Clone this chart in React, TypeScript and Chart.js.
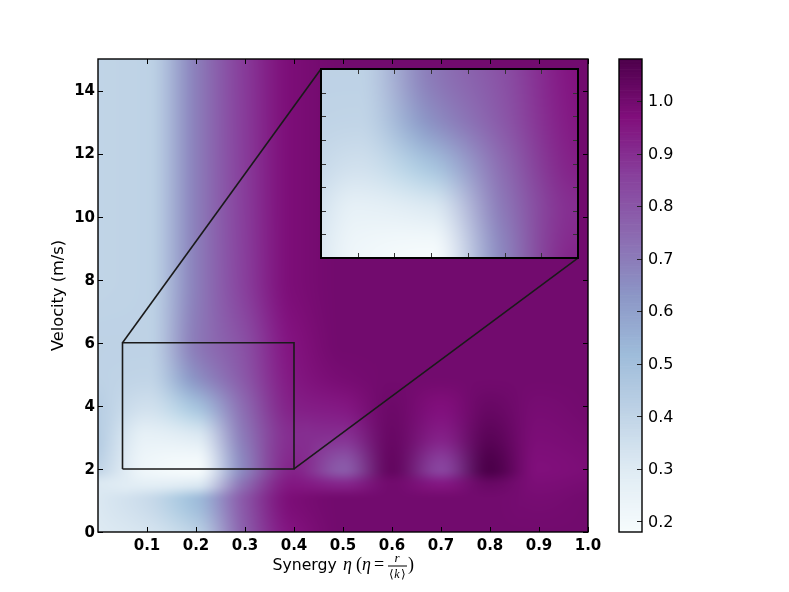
import React, { useEffect, useRef } from "react";
import { Chart, registerables } from "chart.js";
Chart.register(...registerables);

// ---- data ----
const synergy = [0, .1, .2, .3, .4, .5, .6, .7, .8, .9, 1];
const velocity = [0, 1, 1.5, 2, 3, 4, 5, 6, 8, 15];
const atV0 = [.30, .33, .42, .78, .96, 1, 1, 1, 1, 1, 1];
const atV1 = [.31, .37, .51, .80, .98, 1, 1, 1, 1, .99, 1];
const atV15 = [.31, .28, .31, .74, .95, .92, 1.0, .95, 1.02, .98, .99];
const atV2 = [.40, .22, .19, .68, .92, .79, 1.03, .85, 1.08, .97, .98];
const atV3 = [.44, .26, .30, .71, .90, .89, 1.02, .93, 1.05, .98, .99];
const atV4 = [.43, .35, .49, .75, .93, .95, 1.01, .97, 1.02, .99, 1];
const atV5 = [.41, .40, .65, .80, .95, .99, 1, 1, 1, 1, 1];
const atV6 = [.41, .41, .70, .82, .96, 1, 1, 1, 1, 1, 1];
const atV8 = [.40, .41, .69, .86, .98, 1, 1, 1, 1, 1, 1];
const atV15top = [.40, .41, .69, .87, .98, 1, 1, 1, 1, 1, 1];
const grid = [atV0, atV1, atV15, atV2, atV3, atV4, atV5, atV6, atV8, atV15top];

const xTicks = [.1, .2, .3, .4, .5, .6, .7, .8, .9, 1];
const yTicks = [0, 2, 4, 6, 8, 10, 12, 14];
const zoomBox = { x0: .05, x1: .4, y0: 2, y1: 6 };
const insetCorners = { x0: .455, x1: .98, y0: 8.69, y1: 14.68 };
const insetXTicks = [.05, .1, .15, .2, .25, .3, .35, .4];
const insetYTicks = [2, 2.5, 3, 3.5, 4, 4.5, 5, 5.5, 6];
const cbTicks = [.2, .3, .4, .5, .6, .7, .8, .9, 1];
const cbMin = .18, cbMax = 1.08;
const buPu = ["#f7fcfd", "#e0ecf4", "#bfd3e6", "#9ebcda", "#8c96c6", "#8c6bb1", "#88419d", "#810f7c", "#4d004b"];

const FONT = "'DejaVu Sans'";
const stops = buPu.map((c) => [1, 3, 5].map((i) => parseInt(c.slice(i, i + 2), 16)));
function cmap(v: number) {
  const t = Math.max(0, Math.min(1, (v - cbMin) / (cbMax - cbMin))) * (stops.length - 1);
  const i = Math.min(stops.length - 2, Math.floor(t));
  const f = t - i;
  return stops[i].map((c, k) => c + (stops[i + 1][k] - c) * f);
}
// shape-preserving cubic between cells
function slopeAt(xs: number[], fs: number[], i: number) {
  const n = xs.length;
  if (i === 0) return (fs[1] - fs[0]) / (xs[1] - xs[0]);
  if (i === n - 1) return (fs[n - 1] - fs[n - 2]) / (xs[n - 1] - xs[n - 2]);
  const a = (fs[i] - fs[i - 1]) / (xs[i] - xs[i - 1]);
  const b = (fs[i + 1] - fs[i]) / (xs[i + 1] - xs[i]);
  if (a * b <= 0) return 0;
  return (2 * a * b) / (a + b);
}
function hermite(xs: number[], fs: number[], x: number) {
  const n = xs.length;
  let i = 0;
  while (i < n - 2 && x > xs[i + 1]) i++;
  const h = xs[i + 1] - xs[i];
  const t = Math.max(0, Math.min(1, (x - xs[i]) / h));
  const m0 = slopeAt(xs, fs, i), m1 = slopeAt(xs, fs, i + 1);
  const t2 = t * t, t3 = t2 * t;
  return (2 * t3 - 3 * t2 + 1) * fs[i] + (t3 - 2 * t2 + t) * h * m0 + (-2 * t3 + 3 * t2) * fs[i + 1] + (t3 - t2) * h * m1;
}
// the picture blends colours between cells, so each cell is mapped to a colour first
const gridRgb = [0, 1, 2].map((ch) => grid.map((row) => row.map((v) => cmap(v)[ch])));

const heatPlugin = {
  id: "heat",
  beforeDatasetsDraw(chart: any) {
    const { chartArea: a, scales, ctx } = chart;
    const w = Math.round(a.right - a.left), h = Math.round(a.bottom - a.top);
    const off = document.createElement("canvas");
    off.width = w; off.height = h;
    const oc = off.getContext("2d")!;
    const img = oc.createImageData(w, h);
    for (let px = 0; px < w; px++) {
      const xv = scales.x.getValueForPixel(a.left + px + .5);
      const cols = gridRgb.map((g) => g.map((row) => hermite(synergy, row, xv)));
      for (let py = 0; py < h; py++) {
        const yv = scales.y.getValueForPixel(a.top + py + .5);
        const o = (py * w + px) * 4;
        for (let ch = 0; ch < 3; ch++) img.data[o + ch] = hermite(velocity, cols[ch], yv);
        img.data[o + 3] = 255;
      }
    }
    oc.putImageData(img, 0, 0);
    ctx.drawImage(off, a.left, a.top);
  },
};

function frameAndTicks(len: number, lw: number, sides: string[], color = "#000", tickW = 1) {
  return {
    id: "frame",
    afterDraw(chart: any) {
      const { chartArea: a, scales, ctx } = chart;
      ctx.save();
      ctx.strokeStyle = color;
      ctx.lineWidth = tickW;
      const line = (x0: number, y0: number, x1: number, y1: number) => {
        ctx.beginPath(); ctx.moveTo(x0, y0); ctx.lineTo(x1, y1); ctx.stroke();
      };
      if (scales.x && scales.x.type === "linear") {
        scales.x.ticks.forEach((t: any) => {
          const p = Math.round(scales.x.getPixelForValue(t.value)) + .5;
          if (sides.includes("b")) line(p, a.bottom, p, a.bottom - len);
          if (sides.includes("t")) line(p, a.top, p, a.top + len);
        });
      }
      scales.y.ticks.forEach((t: any) => {
        const p = Math.round(scales.y.getPixelForValue(t.value)) + .5;
        if (sides.includes("l")) line(a.left, p, a.left + len, p);
        if (sides.includes("r")) line(a.right, p, a.right - len, p);
      });
      ctx.lineWidth = lw;
      ctx.strokeStyle = "#000";
      ctx.strokeRect(a.left, a.top, a.right - a.left, a.bottom - a.top);
      ctx.restore();
    },
  };
}

const xTitlePlugin = {
  id: "xtitle",
  afterDraw(chart: any) {
    const ctx = chart.ctx;
    ctx.save();
    ctx.fillStyle = "#000";
    ctx.textBaseline = "alphabetic";
    ctx.textAlign = "left";
    ctx.font = `15.7px ${FONT}`;
    ctx.fillText("Synergy", 272.5, 570);
    const serif = "'Liberation Serif'";
    ctx.font = `italic 18px ${serif}`;
    ctx.fillText("η", 343, 570);
    ctx.font = `18px ${serif}`;
    ctx.fillText("(", 356, 570);
    ctx.font = `italic 18px ${serif}`;
    ctx.fillText("η", 362, 570);
    ctx.font = `18px ${serif}`;
    ctx.fillText("=", 374, 570);
    ctx.textAlign = "center";
    ctx.font = `italic 13px ${serif}`;
    ctx.fillText("r", 397, 562);
    ctx.font = `12px ${serif}`;
    ctx.fillText("⟨", 391, 578);
    ctx.fillText("⟩", 403, 578);
    ctx.font = `italic 12px ${serif}`;
    ctx.fillText("k", 397, 578);
    ctx.fillRect(388, 565.5, 19, 1);
    ctx.textAlign = "left";
    ctx.font = `18px ${serif}`;
    ctx.fillText(")", 408, 570);
    ctx.restore();
  },
};

const cellPoints = grid.flatMap((row, j) => row.map((v, i) => ({ x: synergy[i], y: velocity[j], v })));

export default function App() {
  const mainRef = useRef<HTMLCanvasElement>(null);
  const insetRef = useRef<HTMLCanvasElement>(null);
  const cbRef = useRef<HTMLCanvasElement>(null);

  useEffect(() => {
    const boxLine = {
      type: "line", showLine: true, pointRadius: 0, borderColor: "#1a1a1a", borderWidth: 1.6, fill: false, tension: 0,
      data: [
        { x: zoomBox.x0, y: zoomBox.y0 }, { x: zoomBox.x1, y: zoomBox.y0 }, { x: zoomBox.x1, y: zoomBox.y1 },
        { x: zoomBox.x0, y: zoomBox.y1 }, { x: zoomBox.x0, y: zoomBox.y0 },
      ],
    };
    const conn1 = { ...boxLine, data: [{ x: zoomBox.x0, y: zoomBox.y1 }, { x: insetCorners.x0, y: insetCorners.y1 }] };
    const conn2 = { ...boxLine, data: [{ x: zoomBox.x1, y: zoomBox.y0 }, { x: insetCorners.x1, y: insetCorners.y0 }] };

    const main = new Chart(mainRef.current!, {
      type: "scatter",
      data: {
        datasets: [
          { data: cellPoints, pointRadius: 0, showLine: false } as any,
          boxLine as any, conn1 as any, conn2 as any,
        ],
      },
      options: {
        animation: false, responsive: false, devicePixelRatio: 1,
        layout: { padding: { left: 0, top: 59, right: 201, bottom: 0 } },
        plugins: { legend: { display: false }, tooltip: { enabled: false } },
        scales: {
          x: {
            type: "linear", min: 0, max: 1,
            afterBuildTicks: (s: any) => { s.ticks = xTicks.map((value) => ({ value })); },
            afterFit: (s: any) => { s.height = 60; },
            grid: { display: false, drawTicks: false, tickLength: 0 }, border: { display: false },
            ticks: {
              padding: 5, color: "#000", autoSkip: false, maxRotation: 0,
              font: { family: FONT, size: 15, weight: "bold" },
              callback: (v: any) => Number(v).toFixed(1),
            },
          },
          y: {
            type: "linear", min: 0, max: 15,
            afterBuildTicks: (s: any) => { s.ticks = yTicks.map((value) => ({ value })); },
            afterFit: (s: any) => { s.width = 98; },
            grid: { display: false, drawTicks: false, tickLength: 0 }, border: { display: false },
            title: { display: true, text: "Velocity (m/s)", color: "#000", font: { family: FONT, size: 16.2, weight: "normal" }, padding: { top: 49, bottom: 0 } },
            ticks: {
              padding: 3, color: "#000", autoSkip: false, labelOffset: 1,
              font: { family: FONT, size: 15, weight: "bold" },
              callback: (v: any) => String(v),
            },
          },
        },
      } as any,
      plugins: [heatPlugin as any, frameAndTicks(5, 1.4, ["b", "t", "l", "r"]) as any, xTitlePlugin as any],
    });

    const inset = new Chart(insetRef.current!, {
      type: "scatter",
      data: { datasets: [{ data: cellPoints, pointRadius: 0, showLine: false } as any] },
      options: {
        animation: false, responsive: false, devicePixelRatio: 1,
        layout: { padding: { left: 321, top: 69, right: 789 - 578, bottom: 592 - 258 } },
        plugins: { legend: { display: false }, tooltip: { enabled: false } },
        scales: {
          x: {
            type: "linear", min: zoomBox.x0, max: zoomBox.x1, display: true,
            afterBuildTicks: (s: any) => { s.ticks = insetXTicks.map((value) => ({ value })); },
            afterFit: (s: any) => { s.height = 0; },
            grid: { display: false }, border: { display: false }, ticks: { display: false },
          },
          y: {
            type: "linear", min: zoomBox.y0, max: zoomBox.y1, display: true,
            afterBuildTicks: (s: any) => { s.ticks = insetYTicks.map((value) => ({ value })); },
            afterFit: (s: any) => { s.width = 0; },
            grid: { display: false }, border: { display: false }, ticks: { display: false },
          },
        },
      } as any,
      plugins: [heatPlugin as any, frameAndTicks(5, 2, ["b", "t", "l", "r"], "#333") as any],
    });

    const levels: number[] = [];
    for (let k = 0; k < 180; k++) levels.push(cbMin + ((cbMax - cbMin) * k) / 180);
    const toCss = (v: number) => {
      const c = cmap(v).map(Math.round);
      return `rgb(${c[0]},${c[1]},${c[2]})`;
    };
    const cb = new Chart(cbRef.current!, {
      type: "bar",
      data: {
        labels: [""],
        datasets: levels.map((lo) => ({
          data: [[lo, lo + (cbMax - cbMin) / 180]] as any,
          backgroundColor: toCss(lo + (cbMax - cbMin) / 360),
          borderWidth: 0,
          barPercentage: 1, categoryPercentage: 1,
        })),
      },
      options: {
        animation: false, responsive: false, devicePixelRatio: 1,
        layout: { padding: { left: 619, top: 59, right: 0, bottom: 60 } },
        plugins: { legend: { display: false }, tooltip: { enabled: false } },
        scales: {
          x: { stacked: true, display: false, grid: { display: false } },
          y: {
            position: "right", min: cbMin, max: cbMax,
            afterBuildTicks: (s: any) => { s.ticks = cbTicks.map((value) => ({ value })); },
            afterFit: (s: any) => { s.width = 789 - 642; },
            grid: { display: false, drawTicks: false, tickLength: 0 }, border: { display: false },
            ticks: {
              padding: 6, color: "#000", autoSkip: false, labelOffset: 1,
              font: { family: FONT, size: 16 },
              callback: (v: any) => Number(v).toFixed(1),
            },
          },
        },
      } as any,
      plugins: [frameAndTicks(5, 1.4, ["r"], "#222") as any],
    });

    return () => { main.destroy(); inset.destroy(); cb.destroy(); };
  }, []);

  const layer: React.CSSProperties = { position: "absolute", left: 0, top: 0, display: "block" };
  return (
    <div style={{ position: "absolute", left: 0, top: 0, width: 789, height: 592, overflow: "hidden", background: "#fff" }}>
      <canvas ref={mainRef} width={789} height={592} style={layer} />
      <canvas ref={cbRef} width={789} height={592} style={layer} />
      <canvas ref={insetRef} width={789} height={592} style={layer} />
    </div>
  );
}
